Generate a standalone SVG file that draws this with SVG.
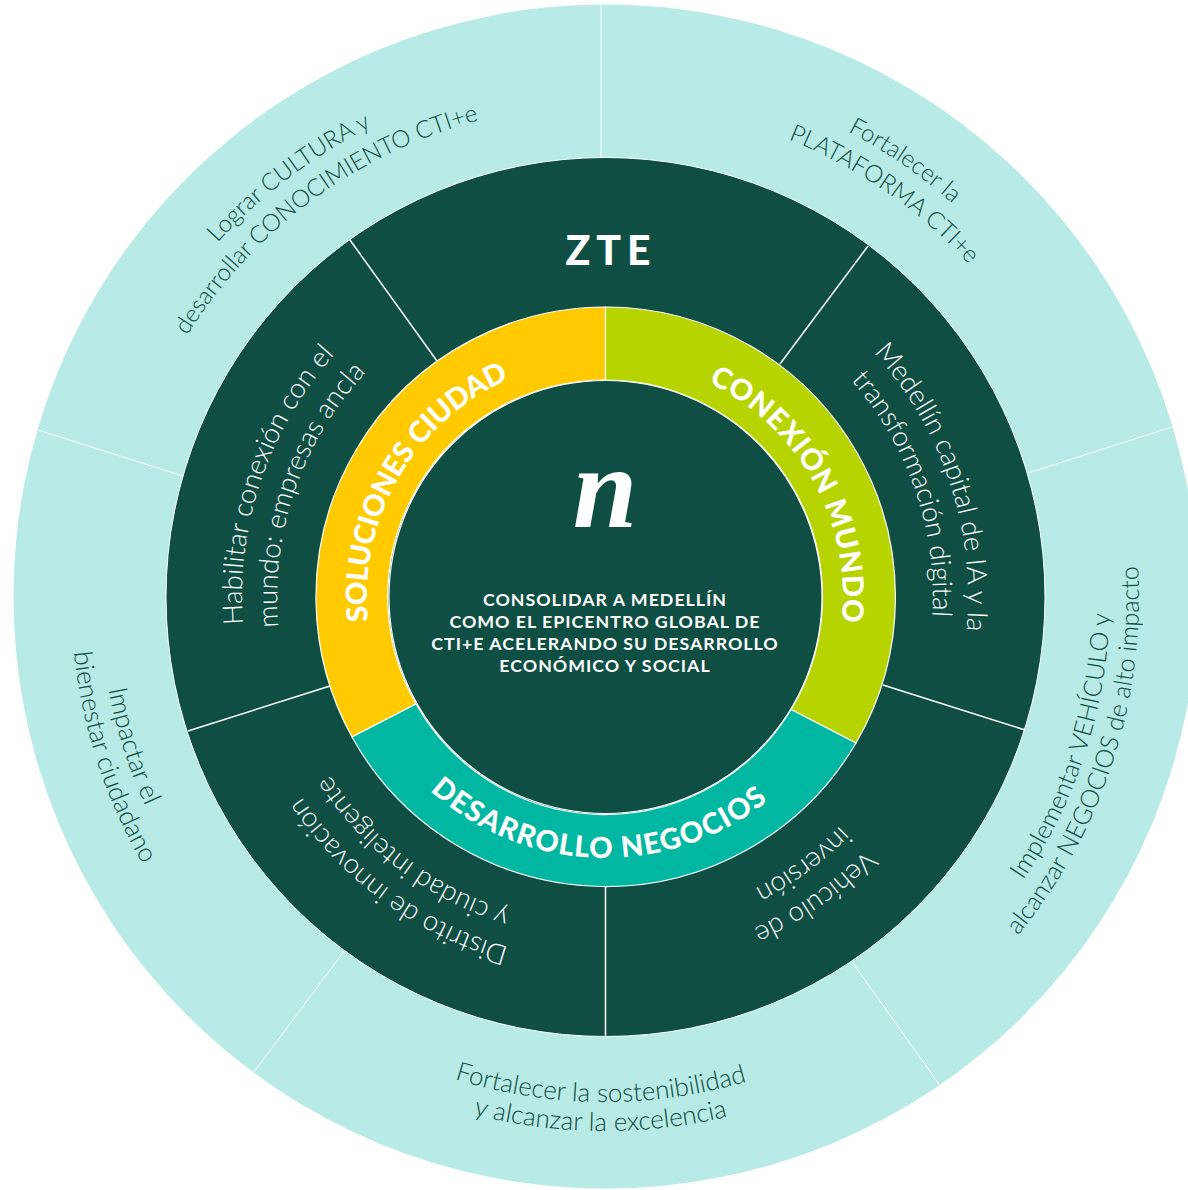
<svg xmlns="http://www.w3.org/2000/svg" xmlns:xlink="http://www.w3.org/1999/xlink" width="1188" height="1190" viewBox="0 0 1188 1190">
<style>
.o{font-family:"Lato","Liberation Sans",sans-serif;font-weight:300;font-size:26px;fill:#0e4e43;text-anchor:middle}
.n{font-size:24.1px}
.m{font-size:25.2px}
.i{font-family:"Lato","Liberation Sans",sans-serif;font-weight:300;font-size:27.6px;fill:#fff;text-anchor:middle}
.h{font-family:"Lato","Liberation Sans",sans-serif;font-weight:900;font-size:29px;fill:#fff;text-anchor:middle}
.c{font-family:"Lato","Liberation Sans",sans-serif;font-weight:700;font-size:17.8px;fill:#fff;text-anchor:middle;letter-spacing:1px}
.l{stroke:#fff;stroke-width:1.5;fill:none}
.t{stroke:#fff;stroke-width:1;fill:none}
.ring{stroke:#fff;stroke-width:1.2}
</style>
<defs>
<path id="c525" d="M80 597A525 525 0 0 1 1130 597"/>
<path id="c493" d="M112 597A493 493 0 0 1 1098 597"/>
<path id="c363" d="M242 597A363 363 0 0 1 968 597"/>
<path id="c328" d="M277 597A328 328 0 0 1 933 597"/>
<path id="c238" d="M367 597A238 238 0 0 1 843 597"/>
<path id="a505" d="M100 597A505 505 0 0 0 1110 597"/>
<path id="a534" d="M71 597A534 534 0 0 0 1139 597"/>
<path id="a261" d="M344 597A261 261 0 0 0 866 597"/>
</defs>
<circle cx="605.5" cy="596.5" r="592" fill="#b8ebe5"/>
<circle cx="605.5" cy="597" r="439.5" fill="#0e4e43" stroke="#fff" stroke-width="1"/>
<g id="connectors">
<line class="t" x1="601" y1="5" x2="601" y2="158"/>
<line class="t" x1="1172" y1="427" x2="1028" y2="473"/>
<line class="t" x1="939" y1="1084" x2="852" y2="962"/>
<line class="t" x1="254" y1="1072" x2="345" y2="950"/>
<line class="t" x1="38" y1="430" x2="183" y2="476"/>
<line class="l" x1="605.5" y1="887" x2="605.5" y2="1036"/>
<line class="l" x1="350" y1="240" x2="437" y2="361"/>
<line class="l" x1="868" y1="246" x2="780" y2="364"/>
<line class="l" x1="883" y1="685" x2="1025" y2="730"/>
<line class="l" x1="330" y1="686" x2="188" y2="731"/>
</g>
<g id="outer-cultura">
<text class="o n" transform="rotate(-37 605 597)"><textPath href="#c525" startOffset="50%">Lograr CULTURA y</textPath></text>
<text class="o n" transform="rotate(-36.4 605 597)"><textPath href="#c493" startOffset="50%">desarrollar CONOCIMIENTO CTI+e</textPath></text>
</g>
<g id="outer-plataforma">
<text class="o n" transform="rotate(34.5 605 597)"><textPath href="#c525" startOffset="50%">Fortalecer la</textPath></text>
<text class="o n" transform="rotate(34.7 605 597)"><textPath href="#c493" startOffset="50%">PLATAFORMA CTI+e</textPath></text>
</g>
<g id="outer-negocios">
<text class="o m" transform="rotate(-72 605 597)"><textPath href="#a505" startOffset="50%">Implementar VEHÍCULO y</textPath></text>
<text class="o m" transform="rotate(-72 605 597)"><textPath href="#a534" startOffset="50%">alcanzar NEGOCIOS de alto impacto</textPath></text>
</g>
<g id="outer-sostenibilidad">
<text class="o" transform="rotate(0.5 605 597)"><textPath href="#a505" startOffset="50%">Fortalecer la sostenibilidad</textPath></text>
<text class="o" transform="rotate(0.5 605 597)"><textPath href="#a534" startOffset="50%">y alcanzar la excelencia</textPath></text>
</g>
<g id="outer-bienestar">
<text class="o" transform="rotate(72.5 605 597)"><textPath href="#a505" startOffset="50%">Impactar el</textPath></text>
<text class="o" transform="rotate(72 605 597)"><textPath href="#a534" startOffset="50%">bienestar ciudadano</textPath></text>
</g>
<g id="zte">
<text x="611" y="265" font-family="Lato,'Liberation Sans',sans-serif" font-weight="900" font-size="41" fill="#fff" text-anchor="middle" letter-spacing="6">ZTE</text>
</g>
<g id="inner-habilitar">
<text class="i" transform="rotate(-71.2 605 597)"><textPath href="#c363" startOffset="50%">Habilitar conexión con el</textPath></text>
<text class="i" transform="rotate(-71 605 597)"><textPath href="#c328" startOffset="50%">mundo: empresas ancla</textPath></text>
</g>
<g id="inner-medellin">
<text class="i" transform="rotate(71.5 605 597)"><textPath href="#c363" startOffset="50%">Medellín capital de IA y la</textPath></text>
<text class="i" transform="rotate(71 605 597)"><textPath href="#c328" startOffset="50%">transformación digital</textPath></text>
</g>
<g id="inner-vehiculo">
<text class="i" transform="rotate(145 605 597)"><textPath href="#c363" startOffset="50%">Vehículo de</textPath></text>
<text class="i" transform="rotate(143.5 605 597)"><textPath href="#c328" startOffset="50%">inversión</textPath></text>
</g>
<g id="inner-distrito">
<text class="i" transform="rotate(216 605 597)"><textPath href="#c363" startOffset="50%">Distrito de innovación</textPath></text>
<text class="i" transform="rotate(217 605 597)"><textPath href="#c328" startOffset="50%">y ciudad inteligente</textPath></text>
</g>
<g id="soluciones-ciudad">
<path class="ring" fill="#ffcb00" d="M605.5 307A290 290 0 0 0 352 737L416 704A217 217 0 0 1 605.5 380Z"/>
<text class="h" style="letter-spacing:-.2px" transform="rotate(-59.8 605 597)"><textPath href="#c238" startOffset="50%">SOLUCIONES CIUDAD</textPath></text>
</g>
<g id="conexion-mundo">
<path class="ring" fill="#b8d400" d="M605.5 307A290 290 0 0 1 856 743L791 709.5A217 217 0 0 0 605.5 380Z"/>
<text class="h" style="letter-spacing:.9px" transform="rotate(61 605 597)"><textPath href="#c238" startOffset="50%">CONEXIÓN MUNDO</textPath></text>
</g>
<g id="desarrollo-negocios">
<path class="ring" fill="#00b8a1" d="M352 737A290 290 0 0 0 856 743L791 709.5A217 217 0 0 1 416 704Z"/>
<text class="h" style="letter-spacing:1.2px" transform="rotate(1.6 605 597)"><textPath href="#a261" startOffset="50%">DESARROLLO NEGOCIOS</textPath></text>
</g>
<g id="centro">
<circle cx="605.5" cy="597" r="216.5" fill="#0e4e43" stroke="#fff" stroke-width="1.2"/>
<text x="605" y="527" font-family="'Liberation Serif',serif" font-weight="700" font-style="italic" font-size="116" fill="#fff" text-anchor="middle">n</text>
<text class="c" x="605" y="606">CONSOLIDAR A MEDELLÍN</text>
<text class="c" x="605" y="628">COMO EL EPICENTRO GLOBAL DE</text>
<text class="c" x="605" y="650">CTI+E ACELERANDO SU DESARROLLO</text>
<text class="c" x="605" y="672">ECONÓMICO Y SOCIAL</text>
</g>
</svg>
